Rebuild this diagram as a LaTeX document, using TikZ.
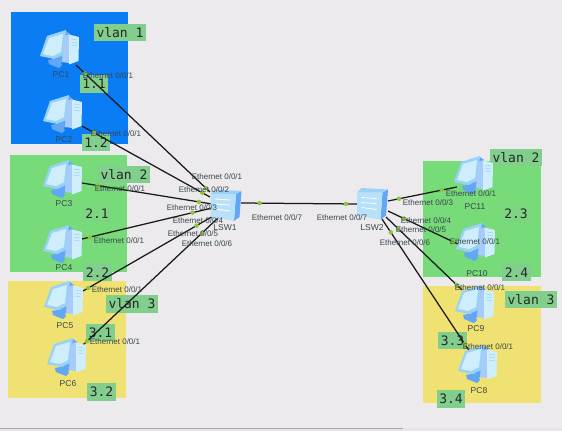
\documentclass[tikz,border=0pt]{standalone}
\usepackage{fontspec}
\setmainfont{Liberation Sans}
\newfontfamily\vlanfont{DejaVu Sans Mono}
\definecolor{bgc}{HTML}{ECEAEC}
\definecolor{blueR}{HTML}{0A7DF5}
\definecolor{greenR}{HTML}{76DB78}
\definecolor{yellowR}{HTML}{F0E272}
\definecolor{tagc}{HTML}{82CE8C}
\definecolor{dotc}{HTML}{8CC63F}
\definecolor{pclight}{HTML}{CDEEFA}
\definecolor{pcmid}{HTML}{9AD2F7}
\definecolor{pcdark}{HTML}{62A6F6}
\definecolor{pcside}{HTML}{A8CBFA}
\definecolor{labelc}{HTML}{3A4550}
\tikzset{
  x=1pt,y=-1pt,
  tag/.style={fill=tagc,inner sep=0pt,text=black!85,font=\vlanfont\fontsize{13}{13}\selectfont,anchor=center},
  softtag/.style={tag,fill=greenR!55!tagc},
  port/.style={font=\fontsize{8}{9}\selectfont,text=labelc,inner sep=0pt},
  devlabel/.style={font=\fontsize{8.5}{10}\selectfont,text=labelc,inner sep=0pt},
  link/.style={draw=black!90,line width=1.25pt},
  dotmark/.style={circle,fill=dotc,inner sep=0pt,minimum size=4.5pt},
  hostbox/.style={inner sep=0pt,minimum width=38pt,minimum height=36pt},
  switchbox/.style={inner sep=0pt,minimum width=31pt,minimum height=31pt},
  pics/pcicon/.style={code={
    \fill[pcdark] (-4,-17)--(5,-19)--(9,-16)--(8,10)--(-4,14)--cycle;
    \fill[pcside] (3,-14)--(8,-16)--(8,13)--(1,12)--cycle;
    \fill[pclight] (8,-15.5)--(18,-13)--(17.5,11)--(8,14.5)--cycle;
    \draw[pcmid,line width=.5pt] (10,-11)--(16,-10) (10,-8)--(16,-7) (10,-5)--(16,-4);
    \fill[pcdark] (-13,10)--(-3,8)--(1,15)--(-2,18)--(-12,14)--cycle;
    \fill[pcmid] (-21,6)--(-14,-14)--(5,-20)--(2,5)--(-7,9)--cycle;
    \fill[pclight] (-18,4)--(-12,-12)--(2,-16)--(0,2)--(-8,6)--cycle;
  }},
  pics/swicon/.style={code={
    \fill[pcdark] (10,-11)--(15.5,-14)--(13.5,12)--(8,16)--cycle;
    \fill[pcmid] (-15.5,-11)--(-11,-15.5)--(15.5,-14)--(10,-11)--cycle;
    \fill[pclight!55!pcmid] (-15.5,-11)--(10,-11)--(8,16)--(-15.5,12)--cycle;
    \draw[white,line width=.8pt] (-11,-6)--(4,-5) (-11,-1)--(4,0) (-11,4)--(4,6);
  }},
}
\newcommand{\conn}[4]{\path[link] (#1) -- node[dotmark,pos=#3]{} node[dotmark,pos=#4]{} (#2);}
\begin{document}
\begin{tikzpicture}
\useasboundingbox (0,0) rectangle (562,431);
\fill[bgc] (0,0) rectangle (562,431);
\fill[black!10] (0,428) rectangle (562,431);
\draw[black!35,line width=.7pt] (0,428) -- (403,428);
% regions
\fill[blueR] (11,12) rectangle (128,144);
\fill[greenR] (10,155) rectangle (127,272);
\fill[yellowR] (8,281) rectangle (126,398);
\fill[greenR] (423,161) rectangle (541,277);
\fill[yellowR] (423,286) rectangle (541,403);
% tags
\node[tag,minimum width=52pt,minimum height=17pt] (t1) at (120,32.5) {vlan 1};
\node[tag,minimum width=28pt,minimum height=18pt] (t2) at (94,84) {1.1};
\node[tag,minimum width=28pt,minimum height=17pt] (t3) at (96,142.5) {1.2};
\node[tag,minimum width=52pt,minimum height=17pt] (t4) at (124,174.5) {vlan 2};
\node[softtag,minimum width=28pt,minimum height=17pt] (t5) at (97,213.5) {2.1};
\node[tag,minimum width=29pt,minimum height=17pt] (t6) at (97.5,272.5) {2.2};
\node[tag,minimum width=52pt,minimum height=18pt] (t7) at (132,304) {vlan 3};
\node[tag,minimum width=29pt,minimum height=17pt] (t8) at (100.5,332.5) {3.1};
\node[tag,minimum width=29pt,minimum height=18pt] (t9) at (101.5,392) {3.2};
\node[tag,minimum width=52pt,minimum height=17pt] (t10) at (516,157.5) {vlan 2};
\node[softtag,minimum width=28pt,minimum height=17pt] (t11) at (516,213.5) {2.3};
\node[tag,minimum width=29pt,minimum height=17pt] (t12) at (516.5,272.5) {2.4};
\node[tag,minimum width=52pt,minimum height=17pt] (t13) at (531,299.5) {vlan 3};
\node[tag,minimum width=29pt,minimum height=17pt] (t14) at (452.5,340.5) {3.3};
\node[tag,minimum width=28pt,minimum height=18pt] (t15) at (451,399) {3.4};
% devices (anchors)
\node[hostbox] (pc1) at (61,50) {};
\node[hostbox] (pc2) at (64,115) {};
\node[hostbox] (pc3) at (64,180) {};
\node[hostbox] (pc4) at (64,245) {};
\node[hostbox] (pc5) at (65,301) {};
\node[hostbox] (pc6) at (68,358) {};
\node[hostbox] (pc11) at (475,176) {};
\node[hostbox] (pc10) at (477,243) {};
\node[hostbox] (pc9) at (476,305) {};
\node[hostbox] (pc8) at (479,365) {};
\node[switchbox] (sw1) at (226,205) {};
\node[switchbox] (sw2) at (372.5,203.5) {};
% ports
\coordinate (a1) at (76,65); \coordinate (b1) at (210,192);
\coordinate (a2) at (82,126); \coordinate (b2) at (210,197);
\coordinate (a3) at (82,183); \coordinate (b3) at (212,204);
\coordinate (a4) at (82,239); \coordinate (b4) at (212,208);
\coordinate (a5) at (83,291); \coordinate (b5) at (215,215);
\coordinate (a6) at (83,345); \coordinate (b6) at (218,218);
\coordinate (c1) at (241,203); \coordinate (c2) at (357,204);
\coordinate (d1) at (388,201); \coordinate (e1) at (457,187);
\coordinate (d2) at (388,211); \coordinate (e2) at (460,245);
\coordinate (d3) at (386,217); \coordinate (e3) at (462,290);
\coordinate (d4) at (382,219); \coordinate (e4) at (470,352);
% connectors
\conn{a1}{b1}{.067}{.97}
\conn{a2}{b2}{.094}{.94}
\conn{a3}{b3}{.12}{.90}
\conn{a4}{b4}{.06}{.85}
\conn{a5}{b5}{.04}{.86}
\conn{a6}{b6}{.03}{.88}
\conn{c1}{c2}{.16}{.905}
\conn{d1}{e1}{.16}{.78}
\conn{d2}{e2}{.22}{.90}
\conn{d3}{e3}{.16}{.93}
\conn{d4}{e4}{.10}{.94}
% icons
\foreach \n in {pc1,pc2,pc3,pc4,pc5,pc6,pc11,pc10,pc9,pc8} \pic at (\n) {pcicon};
\pic at (sw1) {swicon};
\pic at (sw2) {swicon};
% device labels
\node[devlabel] (l1) at (61,75) {PC1};
\node[devlabel] (l2) at (64,140) {PC2};
\node[devlabel] (l3) at (64,204) {PC3};
\node[devlabel] (l4) at (64,268) {PC4};
\node[devlabel] (l5) at (65,326) {PC5};
\node[devlabel] (l6) at (68,384) {PC6};
\node[devlabel] (l7) at (475,207) {PC11};
\node[devlabel] (l8) at (477,274) {PC10};
\node[devlabel] (l9) at (476,329) {PC9};
\node[devlabel] (l10) at (479,391) {PC8};
\node[devlabel] (l11) at (225,228) {LSW1};
\node[devlabel] (l12) at (372,228) {LSW2};
% port labels
\node[port] (p1) at (108,76) {Ethernet 0/0/1};
\node[port] (p2) at (116,134) {Ethernet 0/0/1};
\node[port] (p3) at (120,189) {Ethernet 0/0/1};
\node[port] (p4) at (119,241) {Ethernet 0/0/1};
\node[port] (p5) at (117,290) {Ethernet 0/0/1};
\node[port] (p6) at (115,342) {Ethernet 0/0/1};
\node[port] (p7) at (217,177) {Ethernet 0/0/1};
\node[port] (p8) at (204,190) {Ethernet 0/0/2};
\node[port] (p9) at (192,208) {Ethernet 0/0/3};
\node[port] (p10) at (198,221) {Ethernet 0/0/4};
\node[port] (p11) at (193,234) {Ethernet 0/0/5};
\node[port] (p12) at (207,244) {Ethernet 0/0/6};
\node[port] (p13) at (277,218) {Ethernet 0/0/7};
\node[port] (p14) at (342,218) {Ethernet 0/0/7};
\node[port] (p15) at (428,203) {Ethernet 0/0/3};
\node[port] (p16) at (426,221) {Ethernet 0/0/4};
\node[port] (p17) at (421,230) {Ethernet 0/0/5};
\node[port] (p18) at (405,243) {Ethernet 0/0/6};
\node[port] (p19) at (471,194) {Ethernet 0/0/1};
\node[port] (p20) at (475,242) {Ethernet 0/0/1};
\node[port] (p21) at (480,288) {Ethernet 0/0/1};
\node[port] (p22) at (488,347) {Ethernet 0/0/1};
\end{tikzpicture}
\end{document}
